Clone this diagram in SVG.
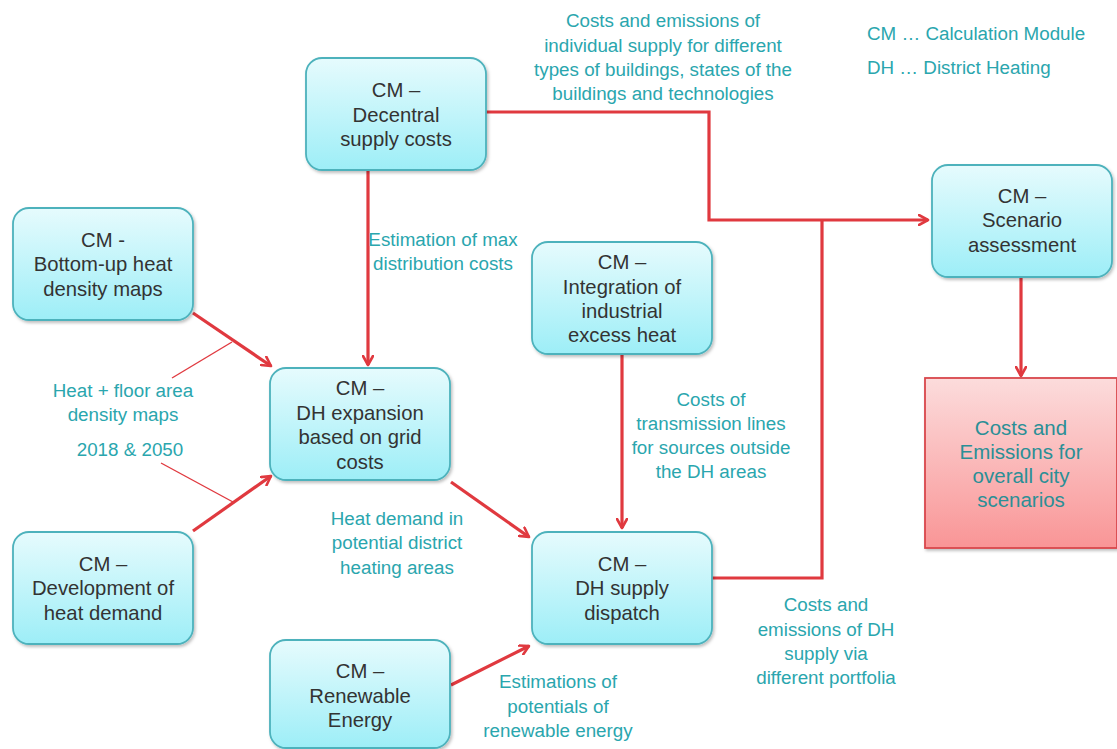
<svg xmlns="http://www.w3.org/2000/svg" width="1117" height="749" viewBox="0 0 1117 749">
<defs>
<linearGradient id="cyan" x1="0" y1="0" x2="0" y2="1">
<stop offset="0" stop-color="#e6fbfd"/>
<stop offset="1" stop-color="#9deef7"/>
</linearGradient>
<linearGradient id="pink" x1="0" y1="0" x2="0" y2="1">
<stop offset="0" stop-color="#fcdcdc"/>
<stop offset="1" stop-color="#f99596"/>
</linearGradient>
<filter id="sh" x="-10%" y="-10%" width="130%" height="130%">
<feDropShadow dx="1.5" dy="2" stdDeviation="1.5" flood-color="#000" flood-opacity="0.25"/>
</filter>
<marker id="ah" viewBox="0 0 12 12" refX="10" refY="6" markerWidth="12" markerHeight="12" markerUnits="userSpaceOnUse" orient="auto">
<path d="M1,1 L10,6 L1,11" fill="none" stroke="#e0393f" stroke-width="2.6" stroke-linecap="round" stroke-linejoin="round"/>
</marker>
</defs>
<style>
.node rect.b{fill:url(#cyan);stroke:#4db2bc;stroke-width:1.8;filter:url(#sh)}
.nt{font-family:"Liberation Sans",Arial,sans-serif;font-size:20.3px;fill:#333;text-anchor:middle}
.lb{font-family:"Liberation Sans",Arial,sans-serif;font-size:18.8px;fill:#2aa6ae;text-anchor:middle}
.rt{font-family:"Liberation Sans",Arial,sans-serif;font-size:20.5px;fill:#2a8f96;text-anchor:middle}
.conn{fill:none;stroke:#e0393f;stroke-width:3.2;stroke-linejoin:miter}
.thin{fill:none;stroke:#e0393f;stroke-width:1.4}
</style>
<rect width="1117" height="749" fill="#fff"/>

<g id="connectors">
<polyline class="conn" points="486,112 709,112 709,220 928,220" marker-end="url(#ah)"/>
<polyline class="conn" points="712,578 822,578 822,220"/>
<line class="conn" x1="368" y1="170" x2="368" y2="365" marker-end="url(#ah)"/>
<line class="conn" x1="1021" y1="277" x2="1021" y2="376" marker-end="url(#ah)"/>
<line class="conn" x1="622" y1="354" x2="622" y2="528" marker-end="url(#ah)"/>
<line class="conn" x1="193" y1="313" x2="271" y2="366" marker-end="url(#ah)"/>
<line class="conn" x1="193" y1="531" x2="271" y2="476" marker-end="url(#ah)"/>
<line class="conn" x1="451" y1="482" x2="529" y2="537" marker-end="url(#ah)"/>
<line class="conn" x1="451" y1="685" x2="529" y2="646" marker-end="url(#ah)"/>
<line class="thin" x1="172" y1="378" x2="232" y2="342"/>
<line class="thin" x1="161" y1="463" x2="233" y2="502"/>
</g>

<g id="n-decentral" class="node">
<rect class="b" x="306" y="58" width="180" height="112" rx="16"/>
<text class="nt" x="396" y="97">CM –</text>
<text class="nt" x="396" y="122">Decentral</text>
<text class="nt" x="396" y="146">supply costs</text>
</g>
<g id="n-bottomup" class="node">
<rect class="b" x="13" y="208" width="180" height="112" rx="16"/>
<text class="nt" x="103" y="247">CM -</text>
<text class="nt" x="103" y="271">Bottom-up heat</text>
<text class="nt" x="103" y="296">density maps</text>
</g>
<g id="n-dhexp" class="node">
<rect class="b" x="270" y="368" width="180" height="112" rx="16"/>
<text class="nt" x="360" y="395">CM –</text>
<text class="nt" x="360" y="420">DH expansion</text>
<text class="nt" x="360" y="444">based on grid</text>
<text class="nt" x="360" y="469">costs</text>
</g>
<g id="n-industrial" class="node">
<rect class="b" x="532" y="242" width="180" height="112" rx="16"/>
<text class="nt" x="622" y="269">CM –</text>
<text class="nt" x="622" y="294">Integration of</text>
<text class="nt" x="622" y="318">industrial</text>
<text class="nt" x="622" y="342">excess heat</text>
</g>
<g id="n-scenario" class="node">
<rect class="b" x="932" y="165" width="180" height="112" rx="16"/>
<text class="nt" x="1022" y="203">CM –</text>
<text class="nt" x="1022" y="227">Scenario</text>
<text class="nt" x="1022" y="252">assessment</text>
</g>
<g id="n-development" class="node">
<rect class="b" x="13" y="532" width="180" height="112" rx="16"/>
<text class="nt" x="103" y="571">CM –</text>
<text class="nt" x="103" y="595">Development of</text>
<text class="nt" x="103" y="620">heat demand</text>
</g>
<g id="n-dhsupply" class="node">
<rect class="b" x="532" y="532" width="180" height="112" rx="16"/>
<text class="nt" x="622" y="571">CM –</text>
<text class="nt" x="622" y="595">DH supply</text>
<text class="nt" x="622" y="620">dispatch</text>
</g>
<g id="n-renewable" class="node">
<rect class="b" x="270" y="640" width="180" height="108" rx="16"/>
<text class="nt" x="360" y="678">CM –</text>
<text class="nt" x="360" y="703">Renewable</text>
<text class="nt" x="360" y="727">Energy</text>
</g>
<g id="n-result" class="node">
<rect x="925" y="378" width="192" height="170" fill="url(#pink)" stroke="#d9474c" stroke-width="1.8" filter="url(#sh)"/>
<text class="rt" x="1021" y="435">Costs and</text>
<text class="rt" x="1021" y="459">Emissions for</text>
<text class="rt" x="1021" y="483">overall city</text>
<text class="rt" x="1021" y="507">scenarios</text>
</g>

<g id="labels">
<text class="lb" x="663" y="27">Costs and emissions of</text>
<text class="lb" x="663" y="52">individual  supply  for different</text>
<text class="lb" x="663" y="76">types of buildings,  states of the</text>
<text class="lb" x="663" y="100">buildings  and technologies</text>
<text class="lb" x="867" y="40" style="text-anchor:start">CM … Calculation  Module</text>
<text class="lb" x="867" y="74" style="text-anchor:start">DH … District Heating</text>
<text class="lb" x="443" y="246">Estimation of max</text>
<text class="lb" x="443" y="270">distribution costs</text>
<text class="lb" x="123" y="397">Heat + floor area</text>
<text class="lb" x="123" y="421">density maps</text>
<text class="lb" x="130" y="456">2018 &amp; 2050</text>
<text class="lb" x="711" y="406">Costs of</text>
<text class="lb" x="711" y="430">transmission lines</text>
<text class="lb" x="711" y="454">for sources outside</text>
<text class="lb" x="711" y="478">the DH areas</text>
<text class="lb" x="397" y="525">Heat demand  in</text>
<text class="lb" x="397" y="549">potential district</text>
<text class="lb" x="397" y="574">heating areas</text>
<text class="lb" x="826" y="611">Costs and</text>
<text class="lb" x="826" y="636">emissions of DH</text>
<text class="lb" x="826" y="660">supply  via</text>
<text class="lb" x="826" y="684">different portfolia</text>
<text class="lb" x="558" y="688">Estimations of</text>
<text class="lb" x="558" y="713">potentials of</text>
<text class="lb" x="558" y="737">renewable energy</text>
</g>
</svg>
